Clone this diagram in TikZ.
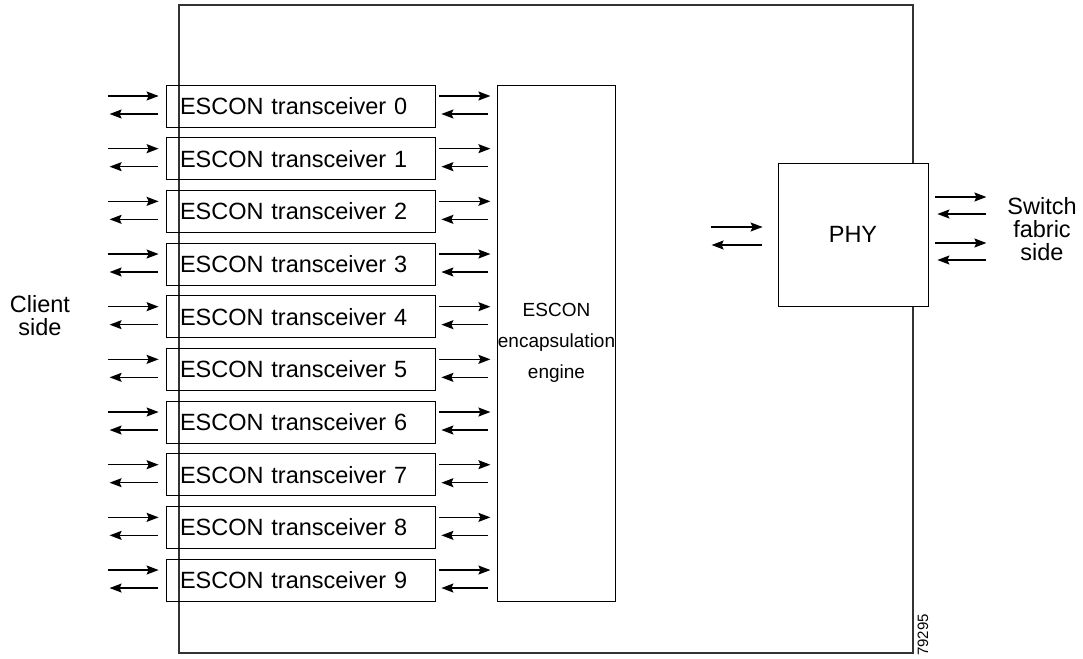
\documentclass[tikz,border=0pt]{standalone}
\usepackage{fontspec}
\setmainfont{Liberation Sans}
\usetikzlibrary{arrows.meta,calc}
\begin{document}
\begin{tikzpicture}[x=1pt,y=-1pt,
  font=\fontsize{23.5}{23}\selectfont,
  card/.style={draw=black!80, line width=1.2pt, minimum width=734pt, minimum height=648pt, inner sep=0pt},
  xcvr/.style={draw, line width=0.8pt, minimum width=269pt, minimum height=42pt,
    text width=241pt, inner xsep=14pt, inner ysep=0pt, align=left},
  block/.style={draw, line width=0.8pt, fill=white, inner sep=0pt, align=center},
  sig/.style={line width=1.3pt, -{Stealth[length=12pt,width=9pt,inset=2pt]}},
  caption/.style={align=center, inner sep=0pt}]
\useasboundingbox (0,0) rectangle (1083,658);

% line card outline
\node[card] (card) at (546,329) {};

% encapsulation engine
\node[block, minimum width=117pt, minimum height=516pt,
  font=\fontsize{19}{31}\selectfont] (eng) at (556.5,343) {ESCON\\encapsulation\\engine};

% ESCON transceivers with their client-side and engine-side signal pairs
\foreach \i in {0,...,9}{
  \node[xcvr] (t\i) at (300.5,{106+52.67*\i}) {ESCON transceiver \i};
  \coordinate (cin\i)  at ($(t\i.west)+(-58,-10)$);
  \coordinate (cout\i) at ($(t\i.west)+(-56,8)$);
  \draw[sig] (cin\i) -- ($(t\i.west)+(-7,-10)$);
  \draw[sig] ($(t\i.west)+(-8,8)$) -- (cout\i);
  \draw[sig] ($(t\i.east)+(4,-10)$) -- ($(t\i.east)+(55,-10)$);
  \draw[sig] ($(t\i.east)+(53,8)$) -- ($(t\i.east)+(6,8)$);
}

% PHY
\node[block, minimum width=150pt, minimum height=143pt] (phy) at (853,234.5) {PHY};

% engine <-> PHY
\draw[sig] ($(phy.west)+(-67,-7.5)$) -- ($(phy.west)+(-15,-7.5)$);
\draw[sig] ($(phy.west)+(-16,10.5)$) -- ($(phy.west)+(-66,10.5)$);

% switch fabric side
\coordinate (sw1) at ($(phy.east)+(58,-37.5)$);
\coordinate (sw2) at ($(phy.east)+(58,8.5)$);
\draw[sig] ($(phy.east)+(7,-37.5)$) -- (sw1);
\draw[sig] ($(phy.east)+(58,-20.5)$) -- ($(phy.east)+(9,-20.5)$);
\draw[sig] ($(phy.east)+(7,8.5)$) -- (sw2);
\draw[sig] ($(phy.east)+(58,25.5)$) -- ($(phy.east)+(9,25.5)$);

\node[caption] (client) at (40,316) {Client\\side};
\node[caption] (fabric) at (1042,229) {Switch\\fabric\\side};
\node[inner sep=0pt, rotate=90, font=\fontsize{15}{16}\selectfont] (fig) at (923,635) {79295};
\end{tikzpicture}
\end{document}
